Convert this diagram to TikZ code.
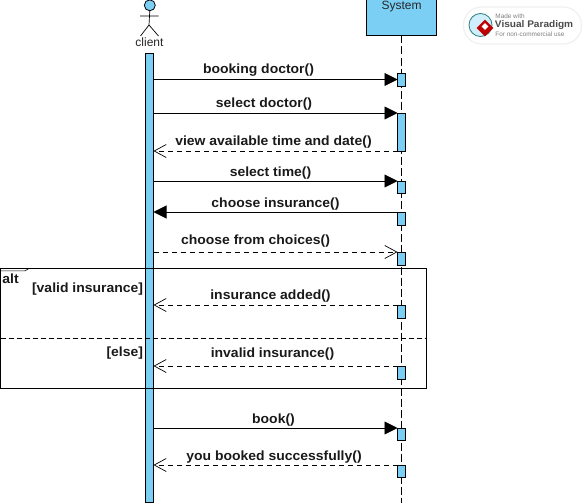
\documentclass[tikz,border=0pt]{standalone}
\usepackage{fontspec}
\setmainfont[BoldFeatures={FakeStretch=1.05}]{Liberation Sans}
\usetikzlibrary{arrows.meta,shapes.geometric}
\definecolor{barblue}{HTML}{7BCFF5}

\begin{document}
\begin{tikzpicture}[x=1pt, y=-1pt, semithick, line width=0.9pt,
	call/.style={-{Triangle[length=13pt,width=13pt]}},
	reply/.style={-{Straight Barb[length=12pt,width=13pt,line width=0.7pt]},dashed,dash pattern=on 5pt off 4pt,line width=0.7pt},
	msglabel/.style={font=\bfseries\fontsize{13.3}{15}\selectfont,inner sep=0pt,text=black!90,yshift=-1pt},
	activation/.style={draw=black,fill=barblue,minimum width=8pt,inner sep=0pt,outer sep=0pt,line width=0.9pt}]
	\useasboundingbox (0,0) rectangle (588,503);

	% lifelines
	\node[draw=black,fill=barblue,minimum width=70pt,minimum height=36pt,inner sep=0pt,outer sep=0pt,line width=0.9pt] (system) at (401.5,17.5) {};
	\node[font=\fontsize{12}{14}\selectfont,inner sep=0pt,text=black!85] (systemlabel) at (401.5,7) {System};
	\coordinate (systemend) at (401.5,503);
	\draw[dash pattern=on 8pt off 3pt,line width=0.8pt] (system.south) -- (systemend);

	\node[activation,minimum height=449pt] (clientbar) at (149.5,277.5) {};

	% actor
	\node[draw=black,fill=barblue,circle,minimum size=11pt,inner sep=0pt,outer sep=0pt,line width=0.8pt] (head) at (149.8,5.3) {};
	\coordinate (hip) at (149,25);
	\coordinate (armleft) at (140,16);
	\coordinate (armright) at (158.5,16);
	\coordinate (legleft) at (140.5,36);
	\coordinate (legright) at (158.5,36);
	\draw[line width=0.7pt] (head.south) -- (hip) (armleft) -- (armright) (legleft) -- (hip) -- (legright);
	\node[font=\fontsize{12}{14}\selectfont,inner sep=0pt,text=black!85] (client) at (149.5,42.5) {client};

	% activations on the system lifeline
	\node[activation,minimum height=13pt,anchor=north] (a1) at (401.5,73) {};
	\node[activation,minimum height=38pt,anchor=north] (a2) at (401.5,113) {};
	\node[activation,minimum height=12pt,anchor=north] (a3) at (401.5,181) {};
	\node[activation,minimum height=13pt,anchor=north] (a4) at (401.5,212) {};
	\node[activation,minimum height=13pt,anchor=north] (a5) at (401.5,252) {};
	\node[activation,minimum height=13pt,anchor=north] (a6) at (401.5,305) {};
	\node[activation,minimum height=13pt,anchor=north] (a7) at (401.5,366) {};
	\node[activation,minimum height=12pt,anchor=north] (a8) at (401.5,428) {};
	\node[activation,minimum height=12pt,anchor=north] (a9) at (401.5,465) {};

	% alt frame
	\node[draw=black,minimum width=426pt,minimum height=119.5pt,inner sep=0pt,outer sep=0pt,line width=0.9pt] (frame) at (213.5,328.25) {};
	\coordinate (splitleft) at (0.5,338);
	\coordinate (splitright) at (426.5,338);
	\coordinate (tabend) at (29,268.5);
	\coordinate (tabstart) at (0.5,270.8);
	\draw[dash pattern=on 5pt off 3pt,line width=0.7pt] (splitleft) -- (splitright);
	\draw[line width=0.6pt] (tabstart) -- (25,270.8) -- (tabend);
	\node[msglabel,anchor=west] (alt) at (2,277.5) {alt};
	\node[msglabel,anchor=east] (guard1) at (143.5,288.5) {[valid insurance]};
	\node[msglabel,anchor=east] (guard2) at (143.5,352.5) {[else]};

	% messages
	\draw[call] (clientbar.east |- a1.west) -- (a1.west);
	\node[msglabel] (m1) at (258.5,69.5) {booking doctor()};
	\draw[call] (clientbar.east |- a2.north west) -- (a2.north west);
	\node[msglabel] (m2) at (264,103.5) {select doctor()};
	\draw[reply] (a2.south west) -- (clientbar.east |- a2.south west);
	\node[msglabel] (m3) at (273.5,141.5) {view available time and date()};
	\draw[call] (clientbar.east |- a3.north west) -- (a3.north west);
	\node[msglabel] (m4) at (270.5,172.5) {select time()};
	\draw[call] (a4.north west) -- (clientbar.east |- a4.north west);
	\node[msglabel] (m5) at (275.5,203.5) {choose insurance()};
	\draw[reply] (clientbar.east |- a5.north west) -- (a5.north west);
	\node[msglabel] (m6) at (255.5,240.5) {choose from choices()};
	\draw[reply] (a6.north west) -- (clientbar.east |- a6.north west);
	\node[msglabel] (m7) at (270.5,295.5) {insurance added()};
	\draw[reply] (a7.north west) -- (clientbar.east |- a7.north west);
	\node[msglabel] (m8) at (272.5,353.5) {invalid insurance()};
	\draw[call] (clientbar.east |- a8.north west) -- (a8.north west);
	\node[msglabel] (m9) at (273.5,419.5) {book()};
	\draw[reply] (a9.north west) -- (clientbar.east |- a9.north west);
	\node[msglabel] (m10) at (274,456.5) {you booked successfully()};

	% watermark
	\node[draw=black!6,fill=white,rounded corners=18pt,minimum width=118pt,minimum height=37pt,inner sep=0pt,line width=1.2pt] (badge) at (522.5,25.5) {};
	\node[circle,draw=teal!70!gray,fill=barblue!35,minimum size=23pt,inner sep=0pt,line width=0.8pt] (globe) at (480.5,25) {};
	\node[diamond,fill=red!75!black,minimum size=17pt,inner sep=0pt] (logo) at (485,28) {};
	\node[diamond,fill=white,minimum size=7pt,inner sep=0pt] (logoinner) at (485,26.5) {};
	\node[font=\fontsize{6.4}{7}\selectfont,text=black!50,inner sep=0pt,anchor=west] (made) at (495,16.5) {Made with};
	\node[font=\bfseries\fontsize{9.6}{10}\selectfont,text=black!70,inner sep=0pt,anchor=west] (vp) at (494.5,25.5) {Visual Paradigm};
	\node[font=\fontsize{6.4}{7}\selectfont,text=black!50,inner sep=0pt,anchor=west] (noncom) at (495,34.5) {For non-commercial use};
\end{tikzpicture}
\end{document}
